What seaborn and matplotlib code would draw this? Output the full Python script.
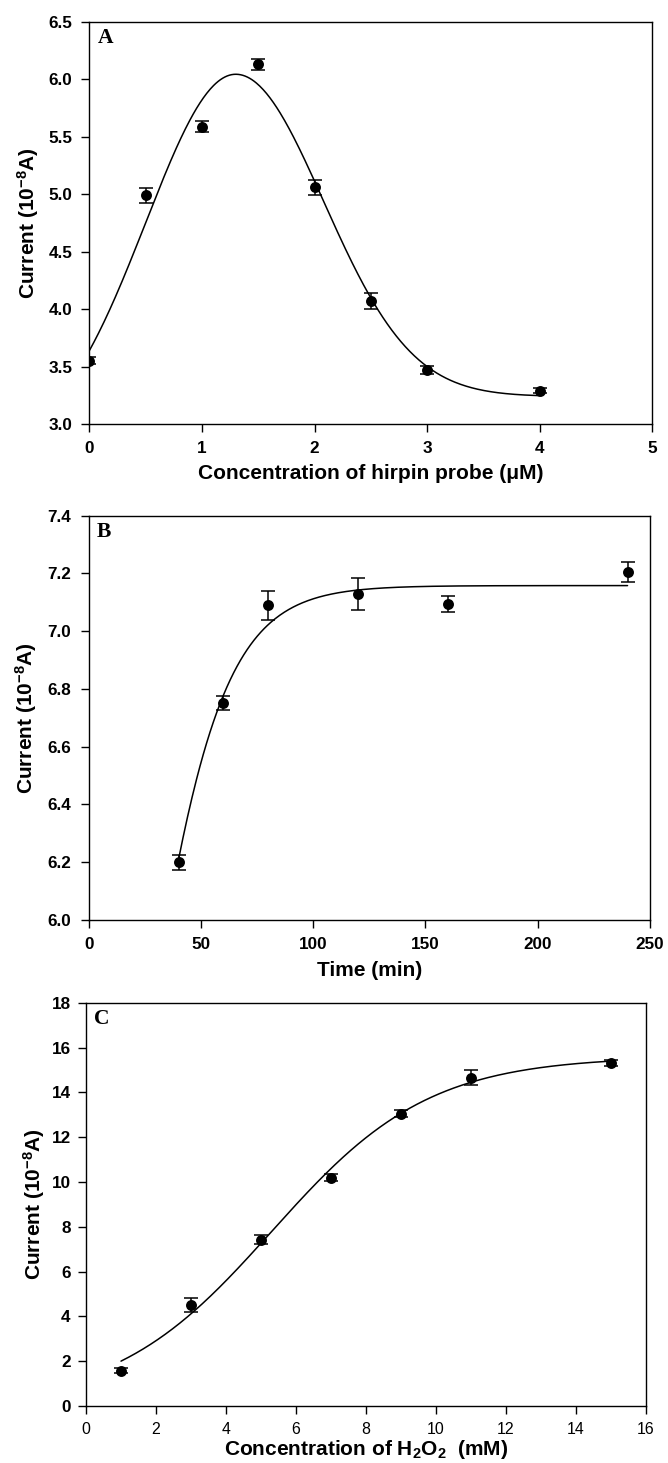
import numpy as np
import pandas as pd
import matplotlib
matplotlib.use("Agg")
import matplotlib.pyplot as plt
import seaborn as sns

# ---------------- data ----------------
# Panel A
a_conc = [0.0, 0.5, 1.0, 1.5, 2.0, 2.5, 3.0, 4.0]
a_current = [3.55, 4.99, 5.59, 6.13, 5.06, 4.07, 3.47, 3.29]
a_err = [0.03, 0.062, 0.044, 0.046, 0.068, 0.073, 0.036, 0.022]
# asymmetric peak fit (left / right halves)
a_peak_x, a_peak_y = 1.3, 6.045
a_left_drop, a_left_width = 3.28, 0.80
a_right_base, a_right_width = 3.24, 0.78

# Panel B
b_time = [40, 60, 80, 120, 160, 240]
b_current = [6.20, 6.75, 7.09, 7.13, 7.095, 7.205]
b_err = [0.026, 0.024, 0.05, 0.055, 0.028, 0.033]
b_y0, b_amp, b_x0, b_w = 3.468, 3.69, 20.8, 18.1

# Panel C
c_conc = [1, 3, 5, 7, 9, 11, 15]
c_current = [1.58, 4.51, 7.41, 10.19, 13.05, 14.66, 15.31]
c_err = [0.12, 0.32, 0.2, 0.15, 0.15, 0.34, 0.13]
c_top, c_x0, c_w = 15.6, 5.31, 2.25

# ---------------- style ----------------
sns.set_theme(style="ticks")
plt.rcParams['font.family'] = ['Liberation Sans', 'DejaVu Sans']
plt.rcParams['mathtext.fontset'] = 'custom'
plt.rcParams['mathtext.rm'] = 'Liberation Sans'
plt.rcParams['mathtext.bf'] = 'Liberation Sans:bold'
plt.rcParams['mathtext.default'] = 'bf'
plt.rcParams['axes.linewidth'] = 1.0
plt.rcParams['axes.edgecolor'] = 'black'
plt.rcParams['text.color'] = 'black'
plt.rcParams['axes.labelcolor'] = 'black'
plt.rcParams['xtick.color'] = 'black'
plt.rcParams['ytick.color'] = 'black'

fig = plt.figure(figsize=(6.68, 14.63), dpi=100)
W, H = 668, 1463


def make_ax(left, right, top, bottom):
    return fig.add_axes([left / W, 1 - bottom / H, (right - left) / W, (bottom - top) / H])


axA = make_ax(89.5, 652, 22, 424)
axB = make_ax(88.7, 650, 515.7, 920)
axC = make_ax(86, 646, 1002.7, 1406)


def fit_A(x):
    x = np.asarray(x)
    d = x - a_peak_x
    left = (a_peak_y - a_left_drop) + a_left_drop * np.exp(-0.5 * (d / a_left_width) ** 2)
    right = a_right_base + (a_peak_y - a_right_base) * np.exp(-0.5 * (d / a_right_width) ** 2)
    return np.where(x < a_peak_x, left, right)


def fit_B(x):
    return b_y0 + b_amp / (1 + np.exp(-(np.asarray(x) - b_x0) / b_w))


def fit_C(x):
    return c_top / (1 + np.exp(-(np.asarray(x) - c_x0) / c_w))


panels = [
    (axA, a_conc, a_current, a_err, fit_A, (0, 4), 'A'),
    (axB, b_time, b_current, b_err, fit_B, (40, 240), 'B'),
    (axC, c_conc, c_current, c_err, fit_C, (1, 15), 'C'),
]

for ax, xs, ys, es, fit, rng, letter in panels:
    xx = np.linspace(rng[0], rng[1], 400)
    curve = pd.DataFrame({'x': xx, 'y': fit(xx)})
    sns.lineplot(data=curve, x='x', y='y', ax=ax, color='black', linewidth=1.1)
    ax.errorbar(xs, ys, yerr=es, fmt='none', ecolor='black', elinewidth=1.1,
                capsize=4.8, capthick=1.1, zorder=3)
    pts = pd.DataFrame({'x': xs, 'y': ys})
    sns.scatterplot(data=pts, x='x', y='y', ax=ax, color='black', s=62,
                    edgecolor='black', linewidth=0, zorder=4)
    ax.text(0.015, 0.985, letter, transform=ax.transAxes, ha='left', va='top',
            fontsize=15.5, fontweight='bold', color='black',
            family=['Liberation Serif', 'DejaVu Serif'])
    for sp in ax.spines.values():
        sp.set_visible(True)
        sp.set_linewidth(1.0)
        sp.set_color('black')
    ax.tick_params(axis='both', direction='out', length=6, width=1.0, colors='black',
                   top=False, right=False)

# Panel A axes
axA.set_xlim(0, 5)
axA.set_ylim(3.0, 6.5)
axA.set_xticks([0, 1, 2, 3, 4, 5])
axA.set_yticks(np.arange(3.0, 6.51, 0.5))
axA.set_yticklabels([f"{v:.1f}" for v in np.arange(3.0, 6.51, 0.5)])
axA.set_xlabel('Concentration of hirpin probe (μM)', fontsize=15, fontweight='bold', va='center')
axA.xaxis.set_label_coords(0.5, -0.124)

# Panel B axes
axB.set_xlim(0, 250)
axB.set_ylim(6.0, 7.4)
axB.set_xticks([0, 50, 100, 150, 200, 250])
axB.set_yticks(np.arange(6.0, 7.41, 0.2))
axB.set_yticklabels([f"{v:.1f}" for v in np.arange(6.0, 7.41, 0.2)])
axB.set_xlabel('Time (min)', fontsize=15, fontweight='bold', va='center')
axB.xaxis.set_label_coords(0.5, -0.124)

# Panel C axes
axC.set_xlim(0, 16)
axC.set_ylim(0, 18)
axC.set_xticks(range(0, 17, 2))
axC.set_yticks(range(0, 19, 2))
axC.set_xlabel('Concentration of H$_2$O$_2$  (mM)', fontsize=15, fontweight='bold', va='center')
axC.xaxis.set_label_coords(0.5, -0.109)

ylab = 'Current (10$^{-8}$A)'
for ax, xc in [(axA, -0.110), (axB, -0.112), (axC, -0.093)]:
    ax.set_ylabel(ylab, fontsize=15, fontweight='bold', va='center')
    ax.yaxis.set_label_coords(xc, 0.5)

for ax in (axA, axB):
    ax.tick_params(axis='both', labelsize=12.3, pad=6.5)
    for lab in ax.get_xticklabels() + ax.get_yticklabels():
        lab.set_fontweight('bold')

axC.tick_params(axis='y', labelsize=12.3, pad=5)
for lab in axC.get_yticklabels():
    lab.set_fontweight('bold')
axC.tick_params(axis='x', labelsize=11.4, pad=5.4)

fig.savefig('out.png', dpi=100, facecolor='white')
